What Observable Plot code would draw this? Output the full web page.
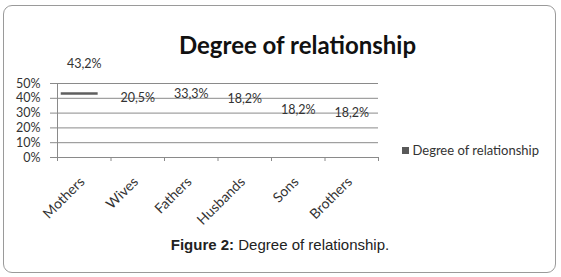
<!DOCTYPE html>
<html><head><meta charset="utf-8">
<script src="https://cdn.jsdelivr.net/npm/d3@7"></script>
<script src="https://cdn.jsdelivr.net/npm/@observablehq/plot@0.6"></script>
<style>
html,body{margin:0;padding:0;background:#fff;}
#wrap{position:relative;width:561px;height:277px;overflow:hidden;font-family:Lato,sans-serif;background:#fff;}
#frame{position:absolute;left:3px;top:4.5px;width:553px;height:268px;box-sizing:border-box;border:1.5px solid #9a9a9a;border-radius:9px;}
#title{position:absolute;left:297.5px;top:33px;transform:translateX(-50%);font:bold 24px/24px Lato,sans-serif;color:#111;white-space:nowrap;}
#chart{position:absolute;left:0;top:0;}
#legend{position:absolute;left:401.7px;top:144.3px;font:13px/13px Lato,sans-serif;color:#333;white-space:nowrap;display:flex;align-items:center;}
#legend .sw{display:inline-block;width:7.3px;height:7px;background:#595959;margin-right:3.5px;}
#caption{position:absolute;left:280px;top:237px;transform:translateX(-50%);font:15px/15px "Liberation Sans",Arial,sans-serif;color:#222;white-space:nowrap;}
</style></head>
<body>
<div id="wrap">
  <div id="frame"></div>
  <div id="title"></div>
  <div id="chart"></div>
  <div id="legend"><span class="sw"></span><span id="legtext"></span></div>
  <div id="caption"><b>Figure 2:</b> <span id="captext"></span></div>
</div>
<script>
const categories = ["Mothers", "Wives", "Fathers", "Husbands", "Sons", "Brothers"];
const values = [43.2, 20.5, 33.3, 18.2, 18.2, 18.2];
// height (in %) at which each data label sits in the picture
const labelHeights = [63.1, 40.4, 43.1, 39.7, 31.8, 29.9];
// only the first marker is visible in the picture
const markerShown = [true, false, false, false, false, false];
const yTicks = [0, 10, 20, 30, 40, 50];
const chartTitle = "Degree of relationship";
const seriesName = "Degree of relationship";
const captionText = "Degree of relationship.";

document.getElementById("title").textContent = chartTitle;
document.getElementById("legtext").textContent = seriesName;
document.getElementById("captext").textContent = captionText;

const data = categories.map((c, i) => ({c, i, v: values[i], lab: labelHeights[i], shown: markerShown[i]}));
const boundaries = categories.map((_, i) => i).concat([categories.length]);
const centers = categories.map((_, i) => i + 0.5);
const gridColor = "#8a8a8a";

const chart = Plot.plot({
  width: 561, height: 277,
  marginLeft: 57, marginRight: 183, marginTop: 83, marginBottom: 120,
  x: {type: "linear", domain: [0, categories.length]},
  y: {domain: [0, 50]},
  style: {fontFamily: "Lato, sans-serif", fontSize: "12.5px", color: "#333", background: "transparent", overflow: "visible"},
  marks: [
    Plot.gridY(yTicks, {stroke: gridColor, strokeOpacity: 1, strokeWidth: 1}),
    Plot.axisY(yTicks, {tickSize: 7, tickPadding: 10, stroke: gridColor, tickFormat: d => d + "%", fill: "#333", fontSize: 12.5}),
    Plot.ruleX([0], {stroke: gridColor}),
    Plot.axisX(boundaries, {tickSize: 4, tickFormat: () => "", stroke: gridColor, label: null}),
    Plot.axisX(centers, {tickSize: 0, tickPadding: 22, dx: -2, tickRotate: -45, tickFormat: d => categories[Math.floor(d)], fill: "#333", fontSize: 14, label: null}),
    Plot.ruleY(data.filter(d => d.shown), {y: "v", x1: d => d.i + 0.07, x2: d => d.i + 0.76, stroke: "#5f5f5f", strokeWidth: 2.5}),
    Plot.text(data, {x: d => d.i + 0.5, y: "lab", text: d => d.v.toFixed(1).replace(".", ",") + "%", fill: "#333", fontSize: 12.5})
  ]
});
document.getElementById("chart").appendChild(chart);
</script>
</body></html>
